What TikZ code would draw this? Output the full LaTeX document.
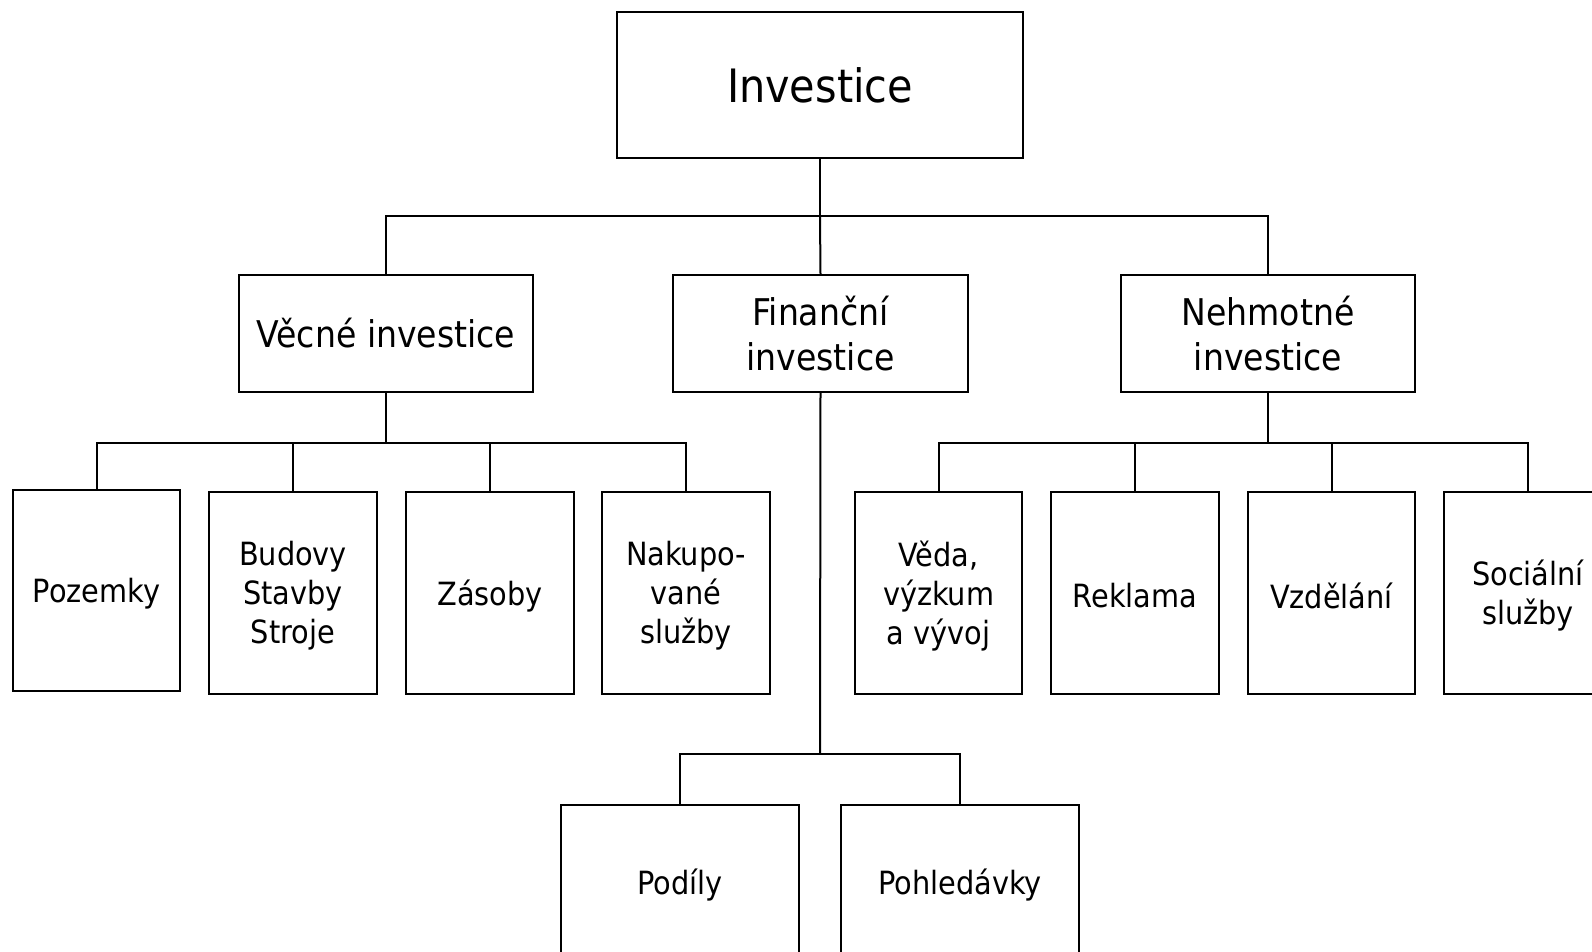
\documentclass[tikz,border=0pt]{standalone}
\usepackage{fontspec}
\setmainfont{DejaVu Sans Condensed}
\begin{document}
\begin{tikzpicture}[x=0.5pt,y=-0.5pt,
  box/.style={draw,line width=1pt,inner sep=0pt,align=center,anchor=center},
  topbox/.style={box,minimum width=203pt,minimum height=73pt,font=\fontsize{23}{27}\selectfont},
  midbox/.style={box,minimum width=147.25pt,minimum height=58.5pt,font=\fontsize{18.4}{22.5}\selectfont},
  leaftext/.style={align=center,inner sep=0pt,yshift=-1.5pt,font=\fontsize{16}{19.5}\selectfont},
  leafbox/.style={box,minimum width=83.75pt,minimum height=100.5pt,label={[leaftext]center:#1}},
  lowbox/.style={box,minimum width=118.8pt,minimum height=77pt,label={[leaftext]center:#1}},
  link/.style={line width=1pt}]
\useasboundingbox (0,0) rectangle (1592,952);
\clip (0,0) rectangle (1592,952);
\fill[white] (0,0) rectangle (1592,952);
\node[topbox] (inv) at (820,85) {Investice};
\node[midbox] (vec) at (386,333.5) {Věcné investice};
\node[midbox] (fin) at (820.5,333.5) {Finanční\\investice};
\node[midbox] (neh) at (1268,333.5) {Nehmotné\\investice};
\node[leafbox={Pozemky}] (poz) at (96.5,590.5) {};
\node[leafbox={Budovy\\Stavby\\Stroje}] (bud) at (293,593) {};
\node[leafbox={Zásoby}] (zas) at (490,593) {};
\node[leafbox={Nakupo-\\vané\\služby}] (nak) at (686,593) {};
\node[leafbox={Věda,\\výzkum\\a vývoj}] (ved) at (938.6,593) {};
\node[leafbox={Reklama}] (rek) at (1135,593) {};
\node[leafbox={Vzdělání}] (vzd) at (1331.5,593) {};
\node[leafbox={Sociální\\služby}] (soc) at (1528,593) {};
\node[lowbox={Podíly}] (pod) at (680,882) {};
\node[lowbox={Pohledávky}] (poh) at (960,882) {};
\coordinate (b1) at (820,216.5);
\coordinate (b2) at (386,442.7);
\coordinate (b3) at (1268,442.7);
\coordinate (b4) at (820,754.4);
\draw[link] (inv.south) -- (b1);
\draw[link] (b1) -- (fin.north);
\draw[link] (vec.north) |- (b1) -| (neh.north);
\draw[link] (vec.south) -- (b2);
\draw[link] (poz.north) |- (b2) -| (nak.north);
\draw[link] (b2) -| (bud.north);
\draw[link] (b2) -| (zas.north);
\draw[link] (neh.south) -- (b3);
\draw[link] (ved.north) |- (b3) -| (soc.north);
\draw[link] (b3) -| (rek.north);
\draw[link] (b3) -| (vzd.north);
\draw[link] (fin.south) -- (b4);
\draw[link] (pod.north) |- (b4) -| (poh.north);
\end{tikzpicture}
\end{document}
